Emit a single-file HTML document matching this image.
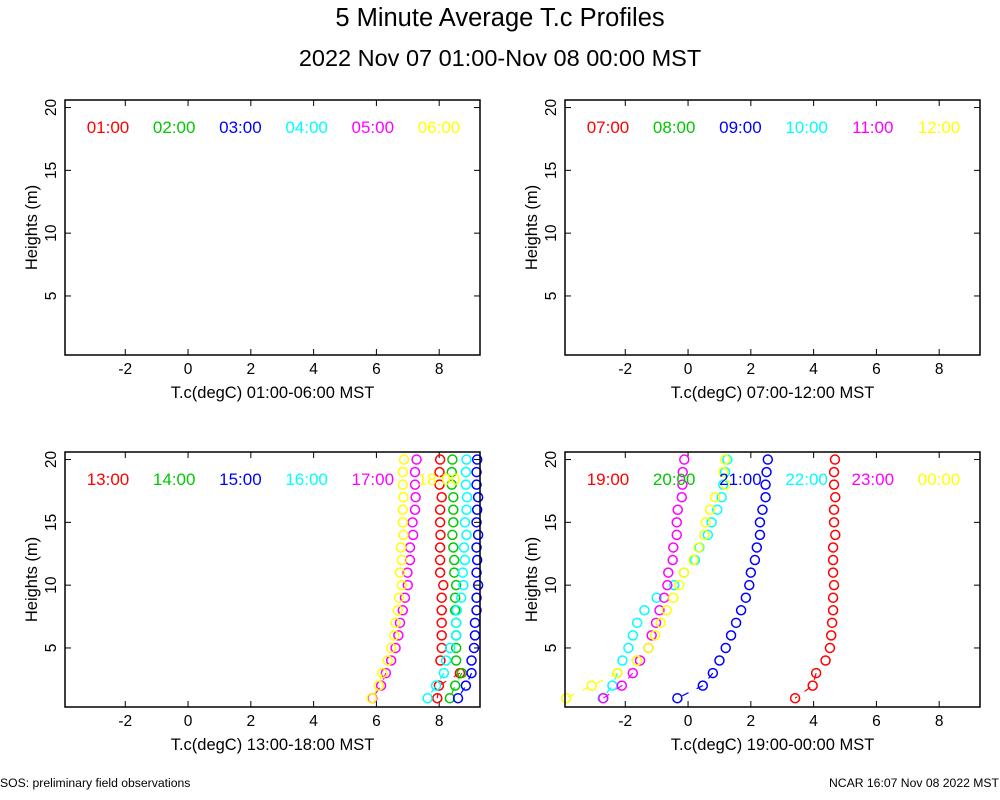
<!DOCTYPE html>
<html><head><meta charset="utf-8"><style>
body{margin:0;background:#fff;}
svg{display:block;font-family:"Liberation Sans",sans-serif;}
</style></head><body>
<svg id="c" width="1000" height="800" viewBox="0 0 1000 800">
<text x="500" y="26" text-anchor="middle" font-size="25.5">5 Minute Average T.c Profiles</text>
<text x="500" y="66" text-anchor="middle" font-size="23.5">2022 Nov 07 01:00-Nov 08 00:00 MST</text>
<text x="0" y="787" font-size="12.2">SOS: preliminary field observations</text>
<text x="999" y="787" text-anchor="end" font-size="12.2">NCAR 16:07 Nov 08 2022 MST</text>
</svg>
<script>
const heights=[20,19,18,17,16,15,14,13,12,11,10,9,8,7,6,5,4,3,2,1];
const xTicks=[-2,0,2,4,6,8];
const yTicks=[5,10,15,20];
const colors=["#ff0000","#00c800","#0000ff","#00ffff","#ff00ff","#ffff00"];
const labelsP1=["01:00","02:00","03:00","04:00","05:00","06:00"];
const labelsP2=["07:00","08:00","09:00","10:00","11:00","12:00"];
const labelsP3=["13:00","14:00","15:00","16:00","17:00","18:00"];
const labelsP4=["19:00","20:00","21:00","22:00","23:00","00:00"];
const s13=[8.03,8.01,8.01,8.08,8.03,8.03,8.04,8.03,8.03,8.03,8.13,8.08,8.08,8.08,8.08,8.08,8.04,8.66,7.99,7.94];
const s14=[8.42,8.40,8.40,8.45,8.45,8.45,8.42,8.45,8.48,8.48,8.54,8.51,8.51,8.54,8.54,8.54,8.54,8.72,8.51,8.34];
const s15=[9.21,9.19,9.19,9.24,9.21,9.19,9.24,9.19,9.21,9.19,9.24,9.19,9.19,9.14,9.14,9.11,9.03,9.03,8.85,8.60];
const s16=[8.87,8.85,8.85,8.89,8.87,8.82,8.87,8.79,8.82,8.75,8.77,8.70,8.56,8.54,8.54,8.35,8.22,8.15,7.90,7.63];
const s17=[7.28,7.23,7.23,7.25,7.23,7.15,7.17,7.07,7.07,6.99,7.00,6.91,6.84,6.75,6.70,6.61,6.47,6.30,6.15,5.87];
const s18=[6.88,6.84,6.84,6.86,6.84,6.84,6.86,6.78,6.81,6.75,6.81,6.72,6.68,6.61,6.57,6.47,6.36,6.19,6.08,5.85];
const s19=[4.68,4.65,4.65,4.69,4.65,4.65,4.69,4.62,4.62,4.62,4.65,4.62,4.62,4.59,4.56,4.52,4.38,4.08,3.97,3.41];
const s20=[];
const s21=[2.54,2.50,2.47,2.47,2.37,2.29,2.29,2.19,2.13,2.00,1.95,1.84,1.69,1.53,1.37,1.20,1.00,0.79,0.47,-0.34];
const s22=[1.25,1.18,1.12,1.07,0.93,0.75,0.63,0.36,0.22,-0.13,-0.44,-1.00,-1.39,-1.62,-1.76,-1.90,-2.09,-2.25,-2.41,-2.72];
const s23=[-0.12,-0.17,-0.18,-0.20,-0.33,-0.36,-0.36,-0.47,-0.49,-0.63,-0.66,-0.76,-0.91,-1.02,-1.16,-1.26,-1.53,-1.76,-2.11,-2.70];
const s00=[1.18,1.12,1.20,0.86,0.70,0.56,0.52,0.33,0.17,-0.13,-0.28,-0.47,-0.68,-0.87,-1.05,-1.26,-1.63,-2.25,-3.07,-3.88];

const svg=document.getElementById('c');
const NS='http://www.w3.org/2000/svg';
function mk(tag,attrs,parent){const e=document.createElementNS(NS,tag);for(const k in attrs)e.setAttribute(k,attrs[k]);(parent||svg).appendChild(e);return e;}
const XMIN=-3.92,XMAX=9.3,YMIN=0.3,YMAX=20.6;
const panels=[
 {x:65,y:100,labels:labelsP1,series:[],range:"01:00-06:00"},
 {x:565,y:100,labels:labelsP2,series:[],range:"07:00-12:00"},
 {x:65,y:452,labels:labelsP3,series:[s13,s14,s15,s16,s17,s18],range:"13:00-18:00"},
 {x:565,y:452,labels:labelsP4,series:[s19,s20,s21,s22,s23,s00],range:"19:00-00:00"}];
const W=415,H=255;
panels.forEach((p,pi)=>{
 const g=mk('g',{});
 
 
 const sx=v=>p.x+(v-XMIN)/(XMAX-XMIN)*W;
 const sy=v=>p.y+H-(v-YMIN)/(YMAX-YMIN)*H;
 xTicks.forEach(t=>{
  const X=sx(t);
  mk('line',{x1:X,y1:p.y+H,x2:X,y2:p.y+H-6,stroke:'#000'},g);
  mk('line',{x1:X,y1:p.y,x2:X,y2:p.y+6,stroke:'#000'},g);
  const tx=mk('text',{x:X,y:p.y+H+19,'text-anchor':'middle','font-size':15.5},g);
  tx.textContent=t;
  
  
 });
 yTicks.forEach(t=>{
  const Y=sy(t);
  mk('line',{x1:p.x,y1:Y,x2:p.x+6,y2:Y,stroke:'#000'},g);
  mk('line',{x1:p.x+W,y1:Y,x2:p.x+W-6,y2:Y,stroke:'#000'},g);
  const tx=mk('text',{x:0,y:0,'text-anchor':'middle','font-size':15.5,transform:`translate(${p.x-9},${Y}) rotate(-90)`},g);
  tx.textContent=t;
  
  
 });
 const yl=mk('text',{x:0,y:0,'text-anchor':'middle','font-size':16.5,transform:`translate(${p.x-28},${p.y+H/2}) rotate(-90)`},g);
 yl.textContent='Heights (m)';
 
 
 const xl=mk('text',{x:p.x+W/2,y:p.y+H+43,'text-anchor':'middle','font-size':16.5},g);
 xl.textContent='T.c(degC) '+p.range+' MST';
 
 
 p.series.forEach((s,si)=>{
  if(!s.length)return;
  const pts=s.slice(-3).map((v,i)=>sx(v)+','+sy(heights[heights.length-3+i])).join(' ');
  const pl=mk('polyline',{points:pts,fill:'none',stroke:colors[si],'stroke-width':1.2,'stroke-dasharray':'7 9'},g);
  
  
  s.forEach((v,i)=>{
   const c=mk('circle',{cx:sx(v),cy:sy(heights[i]),r:4.5,fill:'none',stroke:colors[si],'stroke-width':1.5},g);
   
   
  });
 });
 p.labels.forEach((l,i)=>{
  const t=mk('text',{x:p.x+43+i*66.2,y:p.y+33,'text-anchor':'middle','font-size':17},g);
  t.setAttribute('fill',colors[i]);
  t.textContent=l;
  
  
 });
 const r=mk('rect',{x:p.x,y:p.y,width:W,height:H,fill:'none',stroke:'#000','stroke-width':1.5},g);
 
 
});
</script>
</body></html>
